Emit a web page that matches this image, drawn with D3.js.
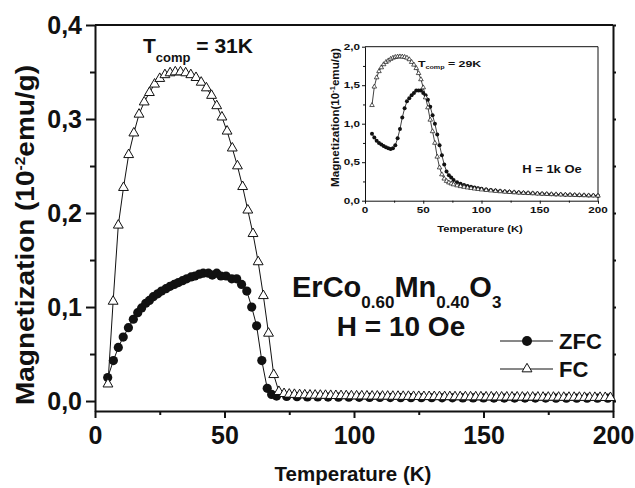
<!DOCTYPE html>
<html>
<head>
<meta charset="utf-8">
<script src="https://cdn.jsdelivr.net/npm/d3@7"></script>
<style>
  body { margin: 0; background: #fff; }
  svg text { font-family: "Liberation Sans", Arial, sans-serif; font-weight: bold; fill: #111; }
</style>
</head>
<body>
<div id="chart"></div>
<script>
// main panel, H = 10 Oe  (M in 10^-2 emu/g)
const fcT = [5,7,9,11,13,15,17,19,21,23,25,27,29,31,33,35,37,39,41,43,45,47,49,51,53,55,57,59,61,63,65,67,69,71,
  73,75,77,79,81,83,85,87,89,91,93,95,97,99,101,103,105,107,109,111,113,115,117,119,121,123,125,127,129,131,133,135,
  137,139,141,143,145,147,149,151,153,155,157,159,161,163,165,167,169,171,173,175,177,179,181,183,185,187,189,191,193,195,197,199];
const fcM = [0.018,0.106,0.187,0.227,0.262,0.285,0.305,0.318,0.328,0.337,0.343,0.347,0.349,0.350,0.350,0.349,0.347,0.344,
  0.339,0.333,0.325,0.314,0.302,0.287,0.269,0.250,0.228,0.203,0.178,0.148,0.112,0.072,0.028,0.010,
  0.0078,0.0072,0.0069,0.0066,0.0064,0.0062,0.0061,0.0060,0.0059,0.0058,0.0057,0.0056,0.0055,0.0054,0.0053,0.0053,
  0.0052,0.0051,0.0051,0.0050,0.0050,0.0049,0.0049,0.0048,0.0048,0.0047,0.0047,0.0046,0.0046,0.0046,0.0045,0.0045,
  0.0045,0.0044,0.0044,0.0044,0.0043,0.0043,0.0043,0.0042,0.0042,0.0042,0.0041,0.0041,0.0041,0.0041,0.0040,0.0040,
  0.0040,0.0040,0.0039,0.0039,0.0039,0.0039,0.0038,0.0038,0.0038,0.0038,0.0037,0.0037,0.0037,0.0037,0.0036,0.0036];
const zfcT = [4.9,7.1,9.0,10.9,12.9,14.8,16.5,18.0,19.6,21.0,22.5,24.2,25.7,27.4,29.0,30.6,32.2,33.8,35.4,37.1,38.6,
  40.3,41.8,43.8,45.3,47.0,48.6,50.6,52.8,54.7,56.6,58.6,60.5,62.4,64.4,66.5,68.2,70.1,
  74,78,82,86,90,94,98,102,106,110,114,118,122,126,130,134,138,142,146,150,154,158,162,166,170,174,178,182,186,190,194,198];
const zfcM = [0.025,0.043,0.057,0.068,0.078,0.087,0.094,0.099,0.104,0.107,0.111,0.114,0.117,0.1195,0.122,0.124,0.126,
  0.128,0.130,0.132,0.133,0.135,0.136,0.136,0.134,0.136,0.133,0.133,0.130,0.130,0.124,0.117,0.100,0.080,0.043,0.0135,
  0.007,0.0053,0.0048,0.0046,0.0044,0.0043,0.0042,0.0041,0.0040,0.0039,0.0038,0.0038,0.0037,0.0036,0.0036,0.0035,
  0.0035,0.0034,0.0034,0.0033,0.0033,0.0033,0.0032,0.0032,0.0032,0.0031,0.0031,0.0031,0.0030,0.0030,0.0030,0.0030,0.0030,0.0030];

// inset, H = 1k Oe  (M in 10^-1 emu/g)
const insFcT = [6,8,10,12,14,16,18,20,22,24,26,28,30,32,34,36,38,40,42,44,46,48,50,52,54,56,58,60,62,64,66,68,70,72,74,76,
  79,82,85,88,91,94,97,100,104,108,112,116,120,124,128,132,136,140,144,148,152,156,160,164,168,172,176,180,184,188,192,196,200];
const insFcM = [1.24,1.48,1.60,1.68,1.73,1.77,1.80,1.82,1.84,1.855,1.865,1.87,1.872,1.87,1.865,1.855,1.835,1.80,1.765,
  1.72,1.655,1.575,1.47,1.34,1.21,1.05,0.90,0.75,0.57,0.43,0.34,0.285,0.255,0.235,0.222,0.21,
  0.197,0.187,0.178,0.170,0.163,0.156,0.150,0.144,0.137,0.131,0.125,0.120,0.115,0.111,0.107,0.103,0.100,0.097,0.094,
  0.091,0.088,0.086,0.083,0.081,0.079,0.077,0.075,0.073,0.071,0.069,0.067,0.066,0.064];
const insZfcT = [6,8,10,12,14,16,18,20,22,24,26,28,30,32,34,36,38,40,42,44,46,48,50,52,54,56,58,60,62,64,66,68,70,72,74,76,
  79,82,85,88,91,94,97,100,104,108,112,116,120,124,128,132,136,140,144,148,152,156,160,164,168,172,176,180,184,188,192,196,200];
const insZfcM = [0.87,0.82,0.78,0.75,0.73,0.71,0.695,0.68,0.67,0.68,0.72,0.81,0.93,1.08,1.20,1.29,1.33,1.37,1.40,1.43,
  1.43,1.43,1.40,1.37,1.31,1.22,1.11,1.00,0.86,0.72,0.59,0.47,0.38,0.33,0.30,0.27,
  0.24,0.22,0.205,0.192,0.181,0.171,0.162,0.154,0.145,0.138,0.131,0.125,0.120,0.115,0.110,0.106,0.102,0.099,0.096,
  0.093,0.090,0.087,0.085,0.082,0.080,0.078,0.076,0.074,0.072,0.070,0.068,0.067,0.065];

const xTicks = [0, 50, 100, 150, 200];
const xMinor = [25, 75, 125, 175];
const yTicks = [0, 0.1, 0.2, 0.3, 0.4];
const yMinor = [0.05, 0.15, 0.25, 0.35];
const insYTicks = [0, 0.5, 1.0, 1.5, 2.0];
const insYMinor = [0.25, 0.75, 1.25, 1.75];

const comma = (d) => d3.format(".1f")(d).replace(".", ",");

const W = 635, H = 488;
const svg = d3.select("#chart").append("svg").attr("width", W).attr("height", H);

// main scales
const x = d3.scaleLinear().domain([0, 200]).range([95, 613]);
const y = d3.scaleLinear().domain([-0.0106, 0.4]).range([411, 25]);

function styleAxis(g, w, fs) {
  g.attr("font-family", null).attr("font-size", null);
  g.select(".domain").attr("stroke", "#111").attr("stroke-width", w);
  g.selectAll(".tick line").attr("stroke", "#111").attr("stroke-width", w);
  g.selectAll(".tick text").style("font-size", fs + "px");
}

// left axis
svg.append("g").attr("transform", "translate(95,0)")
  .call(d3.axisLeft(y).tickValues(yTicks).tickSize(9).tickPadding(4).tickSizeOuter(0).tickFormat(comma))
  .call((g) => styleAxis(g, 2, 25));
svg.append("g").attr("transform", "translate(95,0)")
  .call(d3.axisLeft(y).tickValues(yMinor).tickSize(5).tickFormat(""))
  .call((g) => { styleAxis(g, 2, 0); g.select(".domain").remove(); });

// bottom axis
svg.append("g").attr("transform", "translate(0,411)")
  .call(d3.axisBottom(x).tickValues(xTicks).tickSize(7).tickPadding(8).tickSizeOuter(0))
  .call((g) => styleAxis(g, 2, 25));
svg.append("g").attr("transform", "translate(0,411)")
  .call(d3.axisBottom(x).tickValues(xMinor).tickSize(4).tickFormat(""))
  .call((g) => { styleAxis(g, 2, 0); g.select(".domain").remove(); });

// frame: top and right
svg.append("line").attr("x1", 95).attr("x2", 613).attr("y1", 25).attr("y2", 25)
  .attr("stroke", "#111").attr("stroke-width", 2);
svg.append("g").attr("transform", "translate(613,0)")
  .call(d3.axisRight(y).tickValues(yTicks.concat(yMinor)).tickSize(3).tickSizeOuter(0).tickFormat(""))
  .call((g) => styleAxis(g, 2, 0));

// axis titles
svg.append("text")
  .attr("transform", "translate(34,405) rotate(-90)")
  .attr("text-anchor", "start")
  .attr("textLength", 340)
  .attr("lengthAdjust", "spacingAndGlyphs")
  .style("font-size", "25px")
  .call((t) => {
    t.append("tspan").text("Magnetization (10");
    t.append("tspan").attr("dy", -9).style("font-size", "14px").text("-2");
    t.append("tspan").attr("dy", 9).text("emu/g)");
  });
svg.append("text").attr("x", 353).attr("y", 481).attr("text-anchor", "middle")
  .style("font-size", "20.5px").text("Temperature (K)");

// series
const zfcData = d3.zip(zfcT, zfcM);
const fcData = d3.zip(fcT, fcM);
const line = d3.line().x((d) => x(d[0])).y((d) => y(d[1]));
const tri = d3.symbol(d3.symbolTriangle, 42);

svg.append("path").datum(zfcData).attr("d", line)
  .attr("fill", "none").attr("stroke", "#111").attr("stroke-width", 1);
svg.append("g").selectAll("circle").data(zfcData).join("circle")
  .attr("cx", (d) => x(d[0])).attr("cy", (d) => y(d[1])).attr("r", 4.6).attr("fill", "#111");

svg.append("path").datum(fcData).attr("d", line)
  .attr("fill", "none").attr("stroke", "#111").attr("stroke-width", 1);
svg.append("g").selectAll("path").data(fcData).join("path")
  .attr("transform", (d) => `translate(${x(d[0])},${y(d[1])})`)
  .attr("d", tri).attr("fill", "#fff").attr("stroke", "#111").attr("stroke-width", 1);

// annotations
svg.append("text").attr("x", 143).attr("y", 53).style("font-size", "21px")
  .call((t) => {
    t.append("tspan").text("T");
    t.append("tspan").attr("dy", 9).style("font-size", "13px").text("comp");
    t.append("tspan").attr("dy", -9).text(" = 31K");
  });
svg.append("text").attr("x", 292).attr("y", 297).style("font-size", "29px")
  .call((t) => {
    t.append("tspan").text("ErCo");
    t.append("tspan").attr("dy", 11).style("font-size", "17px").text("0.60");
    t.append("tspan").attr("dy", -11).text("Mn");
    t.append("tspan").attr("dy", 11).style("font-size", "17px").text("0.40");
    t.append("tspan").attr("dy", -11).text("O");
    t.append("tspan").attr("dy", 11).style("font-size", "17px").text("3");
  });
svg.append("text").attr("x", 401).attr("y", 336).attr("text-anchor", "middle")
  .style("font-size", "28px").text("H = 10 Oe");

// legend
const legend = [
  { label: "ZFC", y: 341 },
  { label: "FC", y: 369 },
];
legend.forEach((l) => {
  svg.append("line").attr("x1", 500).attr("x2", 553).attr("y1", l.y).attr("y2", l.y)
    .attr("stroke", "#111").attr("stroke-width", 1);
  if (l.label === "ZFC") {
    svg.append("circle").attr("cx", 527).attr("cy", l.y).attr("r", 5).attr("fill", "#111");
  } else {
    svg.append("path").attr("transform", `translate(527,${l.y})`).attr("d", tri)
      .attr("fill", "#fff").attr("stroke", "#111");
  }
  svg.append("text").attr("x", 559).attr("y", l.y + 8).style("font-size", "22px").text(l.label);
});

// ---------------- inset ----------------
const xi = d3.scaleLinear().domain([0, 200]).range([365, 598]);
const yi = d3.scaleLinear().domain([0, 2]).range([200.7, 46.7]);
const ins = svg.append("g");
const sx = 1.3; // inset lettering is stretched sideways

ins.append("g").attr("transform", "translate(365,0)")
  .call(d3.axisLeft(yi).tickValues(insYTicks).tickSize(3).tickSizeOuter(0).tickFormat(""))
  .call((g) => styleAxis(g, 1, 0));
ins.append("g").attr("transform", "translate(365,0)")
  .call(d3.axisLeft(yi).tickValues(insYMinor).tickSize(2).tickFormat(""))
  .call((g) => { styleAxis(g, 1, 0); g.select(".domain").remove(); });
ins.append("g").attr("transform", "translate(0,200.7)")
  .call(d3.axisBottom(xi).tickValues(xTicks).tickSize(3).tickSizeOuter(0).tickFormat(""))
  .call((g) => styleAxis(g, 1, 0));
ins.append("g").attr("transform", "translate(0,200.7)")
  .call(d3.axisBottom(xi).tickValues(xMinor).tickSize(2).tickFormat(""))
  .call((g) => { styleAxis(g, 1, 0); g.select(".domain").remove(); });
ins.append("line").attr("x1", 365).attr("x2", 598).attr("y1", 46.7).attr("y2", 46.7).attr("stroke", "#111");
ins.append("line").attr("x1", 598).attr("x2", 598).attr("y1", 46.7).attr("y2", 200.7).attr("stroke", "#111");

ins.selectAll(".ylab").data(insYTicks).join("text").attr("class", "ylab")
  .attr("transform", (d) => `translate(360,${yi(d) + 3.2}) scale(${sx},1)`)
  .attr("text-anchor", "end").style("font-size", "9px").text(comma);
ins.selectAll(".xlab").data(xTicks).join("text").attr("class", "xlab")
  .attr("transform", (d) => `translate(${xi(d)},213) scale(${sx},1)`)
  .attr("text-anchor", "middle").style("font-size", "9px").text((d) => d);
ins.append("text").attr("transform", `translate(480,232) scale(${sx},1)`)
  .attr("text-anchor", "middle").style("font-size", "8.6px").text("Temperature (K)");
ins.append("text").attr("transform", `translate(339,187) scale(${sx},1) rotate(-90)`)
  .attr("text-anchor", "start")
  .attr("textLength", 139)
  .attr("lengthAdjust", "spacingAndGlyphs")
  .style("font-size", "8.6px")
  .call((t) => {
    t.append("tspan").text("Magnetization(10");
    t.append("tspan").attr("dy", -3).style("font-size", "5.5px").text("-1");
    t.append("tspan").attr("dy", 3).text("emu/g)");
  });

const iLine = d3.line().x((d) => xi(d[0])).y((d) => yi(d[1]));
const insZfc = d3.zip(insZfcT, insZfcM);
const insFc = d3.zip(insFcT, insFcM);
const triS = d3.symbol(d3.symbolTriangle, 9);

ins.append("path").datum(insZfc).attr("d", iLine).attr("fill", "none").attr("stroke", "#111").attr("stroke-width", 0.8);
ins.append("g").selectAll("circle").data(insZfc).join("circle")
  .attr("cx", (d) => xi(d[0])).attr("cy", (d) => yi(d[1])).attr("r", 2).attr("fill", "#111");
ins.append("path").datum(insFc).attr("d", iLine).attr("fill", "none").attr("stroke", "#111").attr("stroke-width", 0.8);
ins.append("g").selectAll("path").data(insFc).join("path")
  .attr("transform", (d) => `translate(${xi(d[0])},${yi(d[1])})`)
  .attr("d", triS).attr("fill", "#fff").attr("stroke", "#111").attr("stroke-width", 0.7);

ins.append("text").attr("transform", `translate(418,67) scale(${sx},1)`).style("font-size", "9.5px")
  .call((t) => {
    t.append("tspan").text("T");
    t.append("tspan").attr("dy", 2).style("font-size", "5.5px").text("comp");
    t.append("tspan").attr("dy", -2).text(" = 29K");
  });
ins.append("text").attr("transform", `translate(552,173) scale(${sx},1)`)
  .attr("text-anchor", "middle").style("font-size", "10px").text("H = 1k Oe");
</script>
</body>
</html>
